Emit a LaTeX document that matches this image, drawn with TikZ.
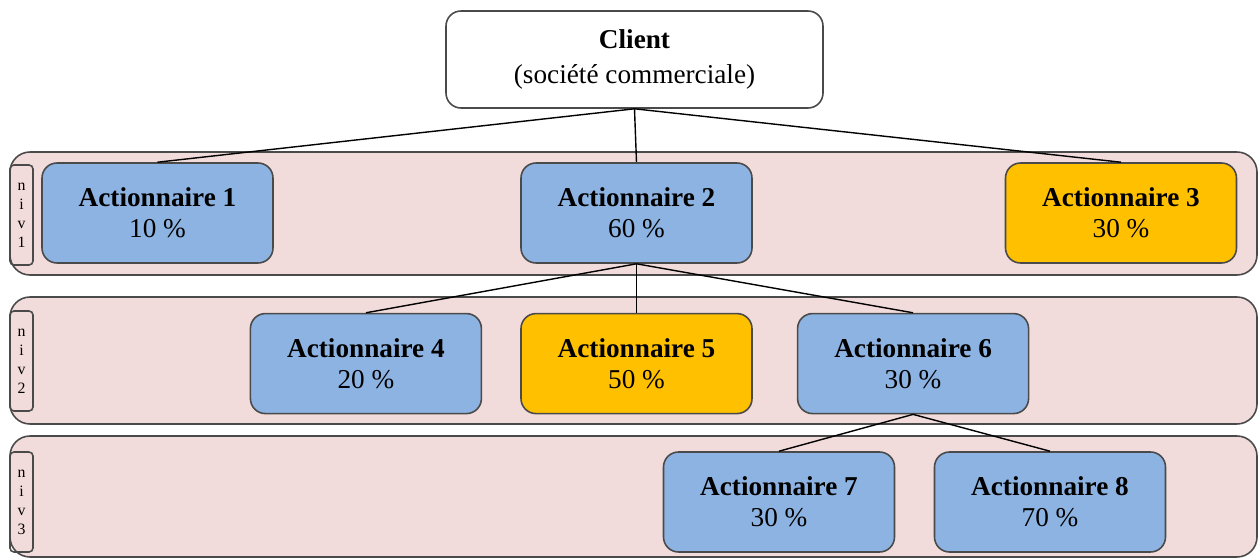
\documentclass[tikz,border=0pt]{standalone}
\usepackage{fontspec}
\setmainfont{Liberation Serif}
\usetikzlibrary{positioning}

\definecolor{bandpink}{HTML}{F2DCDB}
\definecolor{actblue}{HTML}{8DB3E2}
\definecolor{actgold}{HTML}{FFC000}
\definecolor{edgegray}{HTML}{4A4A4A}

\begin{document}
\begin{tikzpicture}[
  band/.style={draw=edgegray,line width=0.9pt,fill=bandpink,rounded corners=0.4cm,
    minimum width=24.94cm,inner sep=0pt},
  niv/.style={draw=edgegray,line width=0.9pt,rounded corners=0.08cm,minimum width=0.46cm,
    minimum height=2cm,inner sep=0pt,align=center,font=\fontsize{9}{10.8}\selectfont},
  act/.style={draw=edgegray,line width=0.9pt,fill=actblue,rounded corners=0.3cm,
    minimum width=4.62cm,minimum height=2cm,align=center,font=\fontsize{15.5}{17.5}\selectfont},
  gold/.style={act,fill=actgold},
  link/.style={draw=black,line width=0.8pt}]
\useasboundingbox (0,0) rectangle (25.16,-11.2);
% bands
\node[band,minimum height=2.46cm] (band1) at (12.67,-4.27) {};
\node[band,minimum height=2.54cm] (band2) at (12.67,-7.21) {};
\node[band,minimum height=2.42cm] (band3) at (12.67,-9.93) {};
\node[niv] (niv1) at (0.43,-4.3) {n\\i\\v\\1};
\node[niv] (niv2) at (0.43,-7.22) {n\\i\\v\\2};
\node[niv] (niv3) at (0.43,-10.04) {n\\i\\v\\3};
% client
\node[draw=edgegray,line width=0.9pt,fill=white,rounded corners=0.3cm,minimum width=7.54cm,
  minimum height=1.94cm,align=center,font=\fontsize{15.5}{20}\selectfont]
  (client) at (12.69,-1.19) {\textbf{Client}\\(société commerciale)};
% level 1
\node[act] (a1) at (3.15,-4.26) {\textbf{Actionnaire 1}\\10 \%};
\node[act] (a2) at (12.73,-4.26) {\textbf{Actionnaire 2}\\60 \%};
\node[gold] (a3) at (22.42,-4.26) {\textbf{Actionnaire 3}\\30 \%};
% level 2
\node[gold] (a5) [below=0.98cm of a2] {\textbf{Actionnaire 5}\\50 \%};
\node[act] (a4) [left=0.76cm of a5] {\textbf{Actionnaire 4}\\20 \%};
\node[act] (a6) [right=0.88cm of a5] {\textbf{Actionnaire 6}\\30 \%};
% level 3
\node[act] (a7) at (15.58,-10.04) {\textbf{Actionnaire 7}\\30 \%};
\node[act] (a8) at (21.0,-10.04) {\textbf{Actionnaire 8}\\70 \%};
% links
\foreach \x in {a1,a2,a3} \path[link] (client.south) -- (\x.north);
\foreach \x in {a4,a5,a6} \path[link] (a2.south) -- (\x.north);
\foreach \x in {a7,a8} \path[link] (a6.south) -- (\x.north);
\end{tikzpicture}
\end{document}
